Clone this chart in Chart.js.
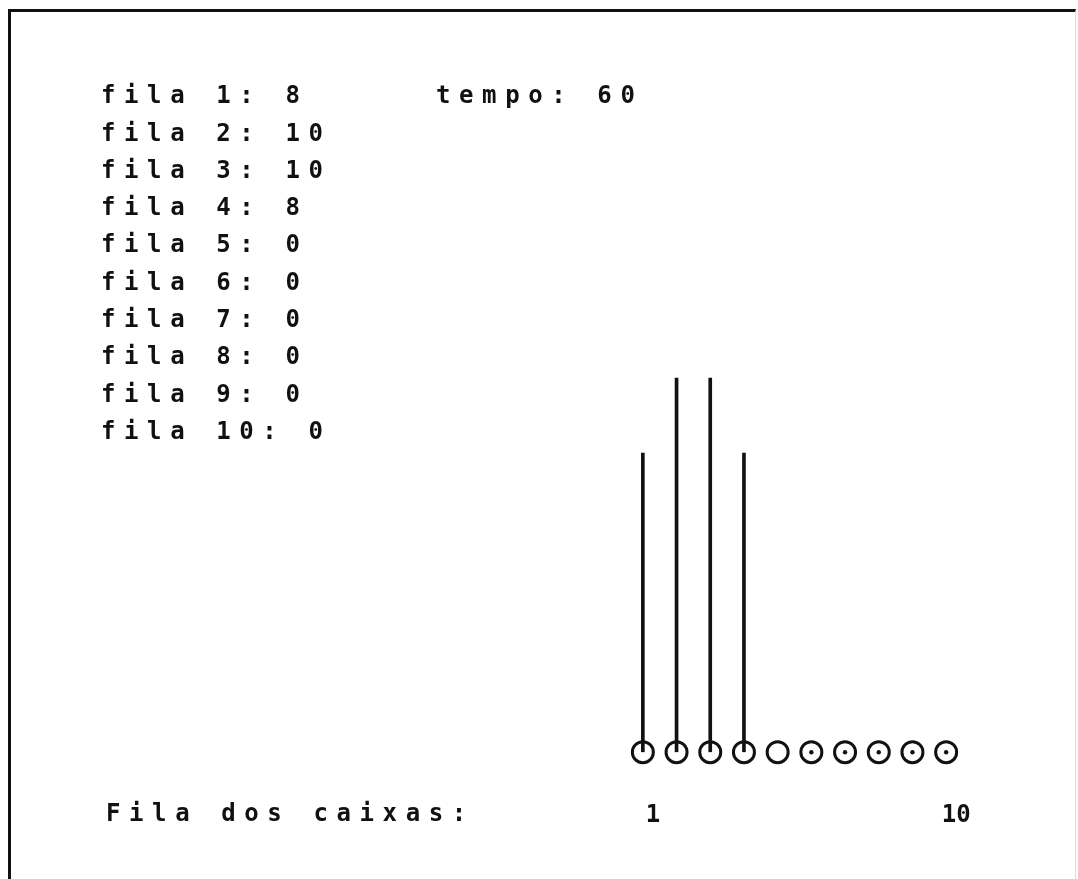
<!DOCTYPE html>
<html>
<head>
<meta charset="utf-8">
<script src="https://cdn.jsdelivr.net/npm/chart.js@4/dist/chart.umd.min.js"></script>
<style>
  html, body { margin: 0; padding: 0; background: #fff; }
  #wrap { position: relative; width: 1078px; height: 879px; }
  #frame {
    position: absolute; left: 8px; top: 9px; right: 2px; bottom: -4px;
    border-left: 3px solid #111; border-top: 3px solid #111; border-right: 1px solid #ddd;
    pointer-events: none;
  }
</style>
</head>
<body>
<div id="wrap">
  <canvas id="chart"></canvas>
  <div id="frame"></div>
</div>
<script>
const caixas = ['1', '2', '3', '4', '5', '6', '7', '8', '9', '10'];
const filas = [8, 10, 10, 8, 0, 0, 0, 0, 0, 0];
const caixaBase = [0, 0, 0, 0, 0, 0, 0, 0, 0, 0];
const pontoLivre = [null, null, null, null, null, 0, 0, 0, 0, 0];
const tickLabels = ['1', '', '', '', '', '', '', '', '', '10'];
const tempo = 60;
const rotulo = 'Fila dos caixas:';

const fonte = 'bold 24px "DejaVu Sans Mono"';

// texto das filas e do tempo, desenhado por cima do grafico
const textos = {
    id: 'textos',
    afterDraw(chart) {
        const ctx = chart.ctx;
        ctx.save();
        ctx.font = fonte;
        ctx.fillStyle = '#111';
        ctx.textBaseline = 'middle';
        ctx.letterSpacing = '8.6px';
        filas.forEach((v, i) => {
            ctx.fillText(`fila ${i + 1}: ${v}`, 101, 97 + i * 37.3);
        });
        ctx.fillText(`tempo: ${tempo}`, 436, 97);
        ctx.fillText(rotulo, 106, 815);
        ctx.restore();
    }
};

new Chart(document.getElementById('chart'), {
    type: 'bar',
    data: {
        labels: caixas,
        datasets: [
            {
                type: 'bar',
                data: filas,
                backgroundColor: (c) => c.raw ? '#111' : 'rgba(0,0,0,0)',
                barThickness: 3,
                order: 1
            },
            {
                type: 'line',
                data: caixaBase,
                showLine: false,
                pointRadius: 10.5,
                pointBorderWidth: 3,
                pointBorderColor: '#111',
                pointBackgroundColor: '#fff',
                clip: false,
                order: 2
            },
            {
                type: 'line',
                data: pontoLivre,
                showLine: false,
                pointRadius: 2.2,
                pointBorderWidth: 0,
                pointBackgroundColor: '#111',
                clip: false,
                order: 0
            }
        ]
    },
    options: {
        responsive: true,
        maintainAspectRatio: false,
        animation: false,
        layout: { padding: { left: 626, right: 115, top: 79, bottom: 0 } },
        plugins: { legend: { display: false }, tooltip: { enabled: false } },
        scales: {
            x: {
                grid: { display: false, drawTicks: false },
                border: { display: false },
                ticks: {
                    padding: 49,
                    labelOffset: 10,
                    autoSkip: false,
                    maxRotation: 0,
                    color: '#111',
                    font: { family: 'DejaVu Sans Mono', size: 24, weight: 'bold' },
                    callback: (v, i) => tickLabels[i]
                }
            },
            y: { display: false, min: 0, max: 18 }
        }
    },
    plugins: [textos]
});
</script>
</body>
</html>
